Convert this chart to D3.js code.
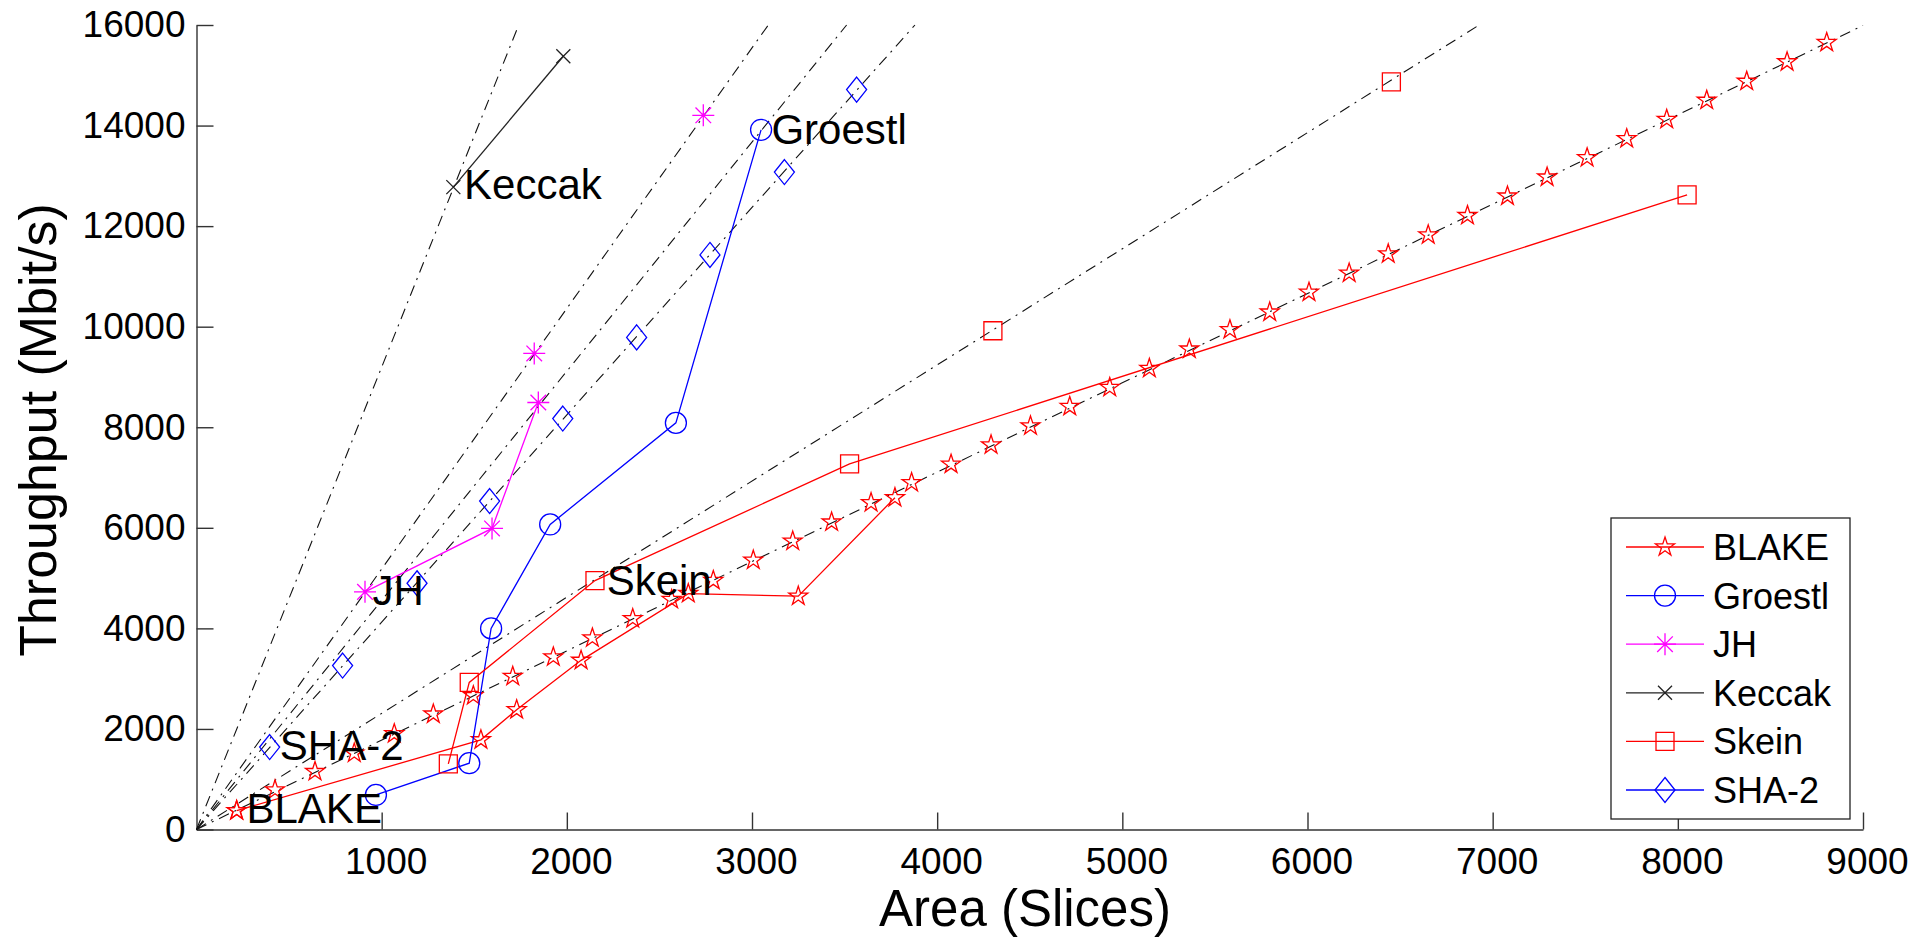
<!DOCTYPE html>
<html>
<head>
<meta charset="utf-8">
<script src="https://cdn.jsdelivr.net/npm/d3@7"></script>
<style>
  html, body { margin: 0; padding: 0; background: #fff; }
  svg { display: block; font-family: "Liberation Sans", Arial, sans-serif; }
</style>
</head>
<body>
<svg id="chart" width="1932" height="938"></svg>
<script>
// ---------- data ----------
const xTicks = [1000, 2000, 3000, 4000, 5000, 6000, 7000, 8000, 9000];
const yTicks = [0, 2000, 4000, 6000, 8000, 10000, 12000, 14000, 16000];

// measured implementations (solid lines + markers)
const blakeArea = [217, 1536, 1729, 2077, 2656, 3250, 3772];
const blakeTp   = [375, 1783, 2381, 3364, 4692, 4640, 6599];
const groestlArea = [969, 1473, 1591, 1910, 2589, 3049];
const groestlTp   = [687, 1319, 4000, 6067, 8087, 13915];
const jhArea = [910, 1596, 1846];
const jhTp   = [4726, 5988, 8492];
const keccakArea = [1387, 1981];
const keccakTp   = [12776, 15379];
const skeinArea = [1360, 1473, 2152, 3527, 8050];
const skeinTp   = [1305, 2925, 4951, 7270, 12623];
const sha2Area = [395];
const sha2Tp   = [1640];

// replicated-core points lying on the dash-dot scaling lines (markers only)
const blakeRepArea = [217, 424, 640, 852, 1068, 1279, 1495, 1708, 1927, 2138, 2356, 2566, 2791, 3007,
  3220, 3430, 3643, 3862, 4075, 4291, 4504, 4716, 4932, 5146, 5362, 5581, 5796, 6008, 6225, 6436,
  6652, 6864, 7080, 7294, 7510, 7724, 7940, 8156, 8372, 8590, 8804];
const blakeRepTp = [375, 787, 1152, 1518, 1903, 2295, 2660, 3045, 3431, 3809, 4194, 4573, 4951, 5356,
  5735, 6114, 6499, 6898, 7263, 7648, 8026, 8412, 8790, 9169, 9554, 9939, 10290, 10684, 11065, 11447,
  11826, 12210, 12597, 12975, 13360, 13738, 14123, 14502, 14880, 15267, 15651];
const sha2RepArea = [789, 1191, 1583, 1978, 2377, 2773, 3175, 3565];
const sha2RepTp   = [3261, 4898, 6532, 8173, 9787, 11427, 13075, 14715];
const jhRepArea = [1824, 2737];
const jhRepTp   = [9468, 14203];
const skeinRepArea = [4301, 6453];
const skeinRepTp   = [9919, 14868];

// dash-dot scaling lines: from the origin to these end points
const refEndArea = [1740, 3088, 3511, 3880, 6927, 9000];
const refEndTp   = [16000, 16000, 16000, 16000, 16000, 15990];

// text labels placed next to the designs
const labelNames = ["Keccak", "Groestl", "JH", "Skein", "SHA-2", "BLAKE"];
const labelArea  = [1445, 3105, 950, 2215, 450, 270];
const labelTp    = [12540, 13640, 4460, 4670, 1380, 120];

const legendNames = ["BLAKE", "Groestl", "JH", "Keccak", "Skein", "SHA-2"];

// ---------- layout ----------
const svg = d3.select("#chart");
const x = d3.scaleLinear().domain([0, 9000]).range([196.5, 1863]);
const y = d3.scaleLinear().domain([0, 16000]).range([829.5, 25]);

const RED = "#ff0000", BLUE = "#0000ff", MAG = "#ff00ff", BLK = "#222222";

// marker generators
function pentagram(R) {
  const pts = [];
  for (let i = 0; i < 10; i++) {
    const a = -Math.PI / 2 + i * Math.PI / 5;
    const r = i % 2 === 0 ? R : R * 0.382;
    pts.push([r * Math.cos(a), r * Math.sin(a)]);
  }
  return "M" + pts.map(p => p[0].toFixed(2) + "," + p[1].toFixed(2)).join("L") + "Z";
}
const markerPaths = {
  star: pentagram(10),
  circle: d3.symbol().type(d3.symbolCircle).size(Math.PI * 10.5 * 10.5)(),
  square: "M-9,-9H9V9H-9Z",
  diamond: "M0,-12.5L10,0L0,12.5L-10,0Z",
  asterisk: "M0,-11V11M-11,0H11M-7.8,-7.8L7.8,7.8M-7.8,7.8L7.8,-7.8",
  cross: "M-7,-7L7,7M-7,7L7,-7"
};

const series = [
  { name: "BLAKE", area: blakeArea, tp: blakeTp, color: RED, marker: "star", repA: blakeRepArea, repT: blakeRepTp },
  { name: "Groestl", area: groestlArea, tp: groestlTp, color: BLUE, marker: "circle", repA: [], repT: [] },
  { name: "JH", area: jhArea, tp: jhTp, color: MAG, marker: "asterisk", repA: jhRepArea, repT: jhRepTp },
  { name: "Keccak", area: keccakArea, tp: keccakTp, color: BLK, marker: "cross", repA: [], repT: [] },
  { name: "Skein", area: skeinArea, tp: skeinTp, color: RED, marker: "square", repA: skeinRepArea, repT: skeinRepTp },
  { name: "SHA-2", area: sha2Area, tp: sha2Tp, color: BLUE, marker: "diamond", repA: sha2RepArea, repT: sha2RepTp }
];

// ---------- axes ----------
const fmt = d3.format("d");
const gx = svg.append("g").attr("transform", `translate(0,${y(0)})`)
  .call(d3.axisBottom(x).tickValues(xTicks).tickFormat(fmt).tickSizeInner(-17).tickSizeOuter(0).tickPadding(18));
const gy = svg.append("g").attr("transform", `translate(${x(0)},0)`)
  .call(d3.axisLeft(y).tickValues(yTicks).tickFormat(fmt).tickSizeInner(-17).tickSizeOuter(0).tickPadding(11));
[gx, gy].forEach(g => {
  g.select(".domain").attr("stroke", "#333").attr("stroke-width", 1.4);
  g.selectAll(".tick line").attr("stroke", "#333").attr("stroke-width", 1.4);
  g.selectAll(".tick text").attr("font-size", 37).attr("fill", "#000")
    .attr("font-family", "Liberation Sans, Arial, sans-serif");
});
gx.selectAll(".tick text").attr("dx", 4);

// ---------- dash-dot scaling lines ----------
const refG = svg.append("g");
refEndArea.forEach((a, i) => {
  refG.append("path")
    .attr("d", d3.line()([[x(0), y(0)], [x(a), y(refEndTp[i])]]))
    .attr("fill", "none").attr("stroke", "#111").attr("stroke-width", 1.1)
    .attr("stroke-dasharray", "11,6,2,6");
});

// ---------- series ----------
const line = d3.line().x(d => x(d[0])).y(d => y(d[1]));
series.forEach(s => {
  const pts = s.area.map((a, i) => [a, s.tp[i]]);
  if (pts.length > 1) {
    svg.append("path").attr("d", line(pts)).attr("fill", "none")
      .attr("stroke", s.color).attr("stroke-width", 1.3);
  }
  const all = pts.concat(s.repA.map((a, i) => [a, s.repT[i]]));
  svg.append("g").selectAll("path").data(all).join("path")
    .attr("transform", d => `translate(${x(d[0])},${y(d[1])})`)
    .attr("d", markerPaths[s.marker])
    .attr("fill", "none").attr("stroke", s.color).attr("stroke-width", 1.3);
});

// ---------- in-plot labels ----------
svg.append("g").selectAll("text").data(labelNames).join("text")
  .attr("x", (d, i) => x(labelArea[i]))
  .attr("y", (d, i) => y(labelTp[i]))
  .attr("font-size", 42).attr("fill", "#000")
  .text(d => d);

// ---------- axis titles ----------
svg.append("text").attr("x", 1025).attr("y", 926).attr("text-anchor", "middle")
  .attr("font-size", 51).attr("fill", "#000").text("Area (Slices)");
svg.append("text").attr("transform", "translate(56,430) rotate(-90)").attr("text-anchor", "middle")
  .attr("font-size", 52).attr("fill", "#000").text("Throughput (Mbit/s)");

// ---------- legend ----------
const lg = svg.append("g");
lg.append("rect").attr("x", 1611).attr("y", 518).attr("width", 239).attr("height", 301)
  .attr("fill", "#fff").attr("stroke", "#222").attr("stroke-width", 1.3);
const rowY = d3.scalePoint().domain(legendNames).range([547, 790]);
legendNames.forEach(n => {
  const s = series.find(q => q.name === n);
  const yy = rowY(n);
  lg.append("line").attr("x1", 1626).attr("x2", 1704).attr("y1", yy).attr("y2", yy)
    .attr("stroke", s.color).attr("stroke-width", 1.3);
  lg.append("path").attr("transform", `translate(1665,${yy})`).attr("d", markerPaths[s.marker])
    .attr("fill", "none").attr("stroke", s.color).attr("stroke-width", 1.3);
  lg.append("text").attr("x", 1713).attr("y", yy + 13).attr("font-size", 36)
    .attr("fill", "#000").text(n);
});
</script>
</body>
</html>
